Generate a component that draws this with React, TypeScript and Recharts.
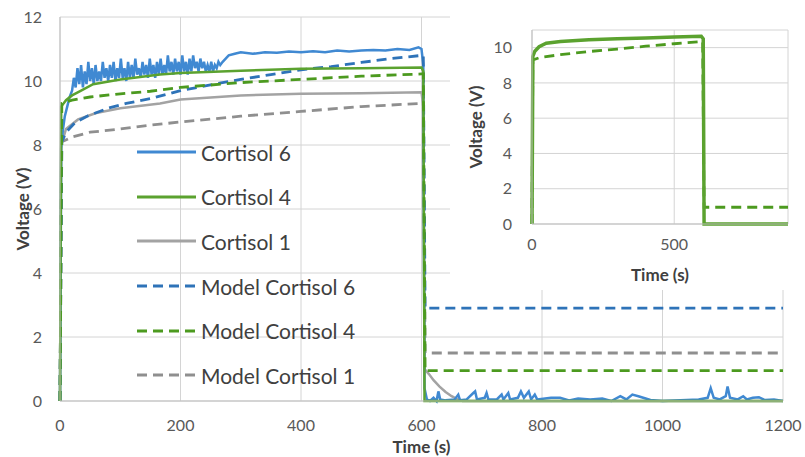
import { LineChart, Line, XAxis, YAxis, CartesianGrid, Legend, Label } from "recharts";

type Pt = [number, number];

// measured sensor output, [time s, voltage V]
const cortisol6: Pt[] = [
  [0, 0], [2, 7.9], [5, 8.5], [8, 8.9], [12, 9.2], [16, 9.5], [20, 9.7], [23, 10.1], [26, 9.8], [29, 10.4],
  [32, 9.9], [35, 10.5], [38, 9.8], [41, 10.3], [44, 9.9], [47, 10.6], [50, 10.0], [53, 10.4], [56, 9.9],
  [59, 10.5], [62, 10.0], [65, 10.3], [68, 10.0], [71, 10.6], [74, 10.1], [77, 10.4], [80, 10.0], [83, 10.5],
  [86, 10.1], [89, 10.6], [92, 10.0], [95, 10.4], [98, 10.1], [101, 10.7], [104, 10.1], [107, 10.4], [110, 10.0],
  [113, 10.6], [116, 10.1], [119, 10.5], [122, 10.1], [125, 10.7], [128, 10.2], [131, 10.4], [134, 10.1],
  [137, 10.6], [140, 10.2], [143, 10.5], [146, 10.1], [149, 10.7], [152, 10.2], [155, 10.5], [158, 10.1],
  [161, 10.6], [164, 10.2], [167, 10.7], [170, 10.2], [173, 10.5], [176, 10.2], [179, 10.8], [182, 10.3],
  [185, 10.6], [188, 10.2], [191, 10.7], [194, 10.3], [197, 10.6], [200, 10.2], [203, 10.8], [206, 10.3],
  [209, 10.6], [212, 10.2], [215, 10.7], [218, 10.3], [221, 10.8], [224, 10.4], [227, 10.6], [230, 10.3],
  [233, 10.7], [236, 10.4], [239, 10.6], [242, 10.3], [245, 10.5], [248, 10.3], [251, 10.6], [254, 10.3],
  [257, 10.5], [260, 10.4], [263, 10.6], [266, 10.5], [270, 10.6], [275, 10.7], [280, 10.8], [290, 10.85],
  [300, 10.9], [320, 10.85], [340, 10.9], [360, 10.88], [380, 10.92], [400, 10.9], [420, 10.93], [440, 10.9],
  [460, 10.95], [480, 10.92], [500, 10.95], [520, 10.97], [540, 10.95], [560, 11.0], [580, 10.97], [595, 11.05],
  [600, 11.0], [603, 10.5], [605, 0.4], [609, 0.05], [614, 0.0], [620, 0.1], [625, 0.0], [628, 0.3], [631, 0.05],
  [640, 0.02], [655, 0.05], [661, 0.2], [664, 0.02], [675, 0.05], [686, 0.25], [689, 0.3], [692, 0.05],
  [705, 0.1], [708, 0.25], [711, 0.05], [725, 0.05], [733, 0.2], [736, 0.05], [744, 0.25], [747, 0.05],
  [760, 0.1], [765, 0.3], [770, 0.1], [778, 0.3], [782, 0.05], [788, 0.2], [792, 0.05], [815, 0.1], [830, 0.1],
  [845, 0.02], [860, 0.08], [880, 0.05], [900, 0.08], [915, 0.0], [930, 0.15], [940, 0.05], [950, 0.2],
  [960, 0.15], [968, 0.1], [980, 0.03], [1000, 0.0], [1030, 0.02], [1060, 0.05], [1075, 0.1], [1080, 0.4],
  [1085, 0.1], [1095, 0.05], [1105, 0.15], [1108, 0.45], [1112, 0.1], [1125, 0.05], [1134, 0.15], [1140, 0.05],
  [1150, 0.1], [1160, 0.12], [1170, 0.03], [1185, 0.05], [1200, 0.0],
];

const cortisol4: Pt[] = [
  [0, 0], [2, 9.2], [10, 9.4], [20, 9.55], [35, 9.7], [55, 9.9], [100, 10.05], [166, 10.2], [200, 10.25],
  [300, 10.32], [400, 10.38], [500, 10.4], [600, 10.42], [603, 10.3], [605, 0], [1200, 0],
];

const cortisol1: Pt[] = [
  [0, 0], [2, 8.0], [10, 8.5], [30, 8.8], [60, 9.0], [100, 9.15], [166, 9.3], [200, 9.42], [300, 9.55],
  [400, 9.6], [500, 9.62], [600, 9.65], [603, 9.2], [605, 1.0], [612, 0.85], [620, 0.65], [630, 0.45],
  [640, 0.28], [650, 0.15], [660, 0.05], [668, 0], [1200, 0],
];

// model curves
const model6: Pt[] = [
  [0, 0], [3, 8.1], [10, 8.4], [25, 8.7], [45, 8.9], [80, 9.15], [110, 9.3], [150, 9.45], [200, 9.7],
  [250, 9.88], [300, 10.05], [350, 10.2], [400, 10.35], [450, 10.45], [500, 10.58], [550, 10.7], [600, 10.8],
  [603, 10.8], [606, 2.9], [1200, 2.9],
];

const model4: Pt[] = [
  [0, 0], [3, 9.3], [20, 9.4], [50, 9.5], [100, 9.6], [150, 9.68], [200, 9.8], [300, 9.95], [400, 10.05],
  [500, 10.15], [600, 10.22], [603, 10.22], [606, 0.95], [1200, 0.95],
];

const model1: Pt[] = [
  [0, 0], [3, 8.1], [20, 8.25], [50, 8.4], [100, 8.5], [150, 8.62], [200, 8.72], [300, 8.9], [400, 9.05],
  [500, 9.2], [600, 9.3], [603, 9.3], [606, 1.5], [1200, 1.5],
];

// inset: Cortisol 4 only
const insetCortisol4: Pt[] = [
  [0, 0], [3, 9.5], [10, 9.8], [25, 10.05], [50, 10.25], [100, 10.35], [200, 10.45], [300, 10.5],
  [400, 10.55], [500, 10.6], [595, 10.65], [602, 10.5], [605, 0], [900, 0],
];

const insetModel4: Pt[] = [
  [0, 0], [3, 9.3], [30, 9.45], [100, 9.6], [200, 9.78], [300, 9.92], [400, 10.08], [500, 10.22],
  [600, 10.35], [605, 0.95], [900, 0.95],
];

const mainXTicks = [0, 200, 400, 600, 800, 1000, 1200];
const mainYTicks = [0, 2, 4, 6, 8, 10, 12];
const insetXTicks = [0, 500];
const insetYTicks = [0, 2, 4, 6, 8, 10];

const rows = (pts: Pt[]) => pts.map(([t, v]) => ({ t, v }));

const BLUE = "#4089d2";
const BLUE_D = "#2e73b8";
const GREEN = "#5ba22f";
const GREEN_D = "#4c9a1f";
const GRAY = "#a3a3a3";
const GRAY_D = "#8f8f8f";
const DASH = "10 6";
const FONT = "Lato, 'Open Sans', sans-serif";

const series = [
  { name: "Cortisol 1", data: cortisol1, color: GRAY, dash: undefined },
  { name: "Model Cortisol 1", data: model1, color: GRAY_D, dash: DASH },
  { name: "Cortisol 6", data: cortisol6, color: BLUE, dash: undefined },
  { name: "Model Cortisol 6", data: model6, color: BLUE_D, dash: DASH },
  { name: "Cortisol 4", data: cortisol4, color: GREEN, dash: undefined },
  { name: "Model Cortisol 4", data: model4, color: GREEN_D, dash: DASH },
];

const legendOrder = ["Cortisol 6", "Cortisol 4", "Cortisol 1", "Model Cortisol 6", "Model Cortisol 4", "Model Cortisol 1"];

const tickStyle = { fill: "#595959", fontSize: 16, fontFamily: FONT };

function LegendBox() {
  return (
    <div style={{ fontFamily: FONT }}>
      {legendOrder.map(n => {
        const s = series.find(x => x.name === n)!;
        return (
          <div key={n} style={{ display: "flex", alignItems: "center", height: 44.6 }}>
            <svg width={62} height={10}>
              <line x1={1} y1={5} x2={60} y2={5} stroke={s.color} strokeWidth={3} strokeDasharray={s.dash} />
            </svg>
            <span style={{ fontSize: 21, color: "#404040", marginLeft: 3, whiteSpace: "nowrap" }}>{n}</span>
          </div>
        );
      })}
    </div>
  );
}

const yTitle = (dx: number) => (props: any) => {
  const { x, y, height } = props.viewBox;
  const cx = x + dx;
  const cy = y + height / 2;
  return (
    <text x={cx} y={cy} transform={`rotate(-90 ${cx} ${cy})`} textAnchor="middle" dominantBaseline="central"
      fontFamily={FONT} fontWeight={700} fontSize={17} fill="#404040">Voltage (V)</text>
  );
};

const xTitle = (dy: number) => (props: any) => {
  const { x, y, width } = props.viewBox;
  return (
    <text x={x + width / 2} y={y + dy} textAnchor="middle" dominantBaseline="central"
      fontFamily={FONT} fontWeight={700} fontSize={17} fill="#404040">Time (s)</text>
  );
};

export default function App() {
  return (
    <div style={{ position: "absolute", left: 0, top: 0, width: 805, height: 457, background: "#fff" }}>
      <LineChart width={805} height={457} margin={{ top: 17, right: 22, bottom: 6, left: 0 }}>
        <CartesianGrid stroke="#d4d4d4" />
        <XAxis dataKey="t" type="number" domain={[0, 1200]} ticks={mainXTicks} tickLine={false} tickSize={0}
          height={50} tickMargin={19} axisLine={{ stroke: "#bfbfbf" }} tick={tickStyle} allowDuplicatedCategory={false}>
          <Label content={xTitle(45)} />
        </XAxis>
        <YAxis type="number" domain={[0, 12]} ticks={mainYTicks} width={60} tickLine={false} tickSize={0}
          tickMargin={18} axisLine={{ stroke: "#bfbfbf" }} tick={tickStyle}>
          <Label content={yTitle(22)} />
        </YAxis>
        {series.map(s => (
          <Line key={s.name} name={s.name} data={rows(s.data)} dataKey="v" stroke={s.color}
            strokeWidth={s.dash ? 2.8 : 2.5} strokeDasharray={s.dash} dot={false} isAnimationActive={false} />
        ))}
        <Legend layout="vertical" align="center" verticalAlign="middle" content={() => <LegendBox />}
          wrapperStyle={{ left: 136, top: 130, width: 320, height: 270 }} />
      </LineChart>

      <div style={{ position: "absolute", left: 450, top: 0, width: 355, height: 290, background: "#fff" }}>
        <LineChart width={355} height={290} margin={{ top: 30, right: 17, bottom: 6, left: 0 }}>
          <CartesianGrid stroke="#d4d4d4" />
          <XAxis dataKey="t" type="number" domain={[0, 900]} ticks={insetXTicks} tickLine={false} tickSize={0}
            height={60} tickMargin={15} axisLine={{ stroke: "#bfbfbf" }} tick={tickStyle} allowDuplicatedCategory={false}>
            <Label content={xTitle(50)} />
          </XAxis>
          <YAxis type="number" domain={[0, 11]} ticks={insetYTicks} width={82} tickLine={false} tickSize={0}
            tickMargin={20} axisLine={{ stroke: "#bfbfbf" }} tick={tickStyle}>
            <Label content={yTitle(25)} />
          </YAxis>
          <Line data={rows(insetModel4)} dataKey="v" stroke={GREEN_D} strokeWidth={2.8} strokeDasharray={DASH}
            dot={false} isAnimationActive={false} />
          <Line data={rows(insetCortisol4)} dataKey="v" stroke={GREEN} strokeWidth={3.5} dot={false}
            isAnimationActive={false} />
        </LineChart>
      </div>
    </div>
  );
}
